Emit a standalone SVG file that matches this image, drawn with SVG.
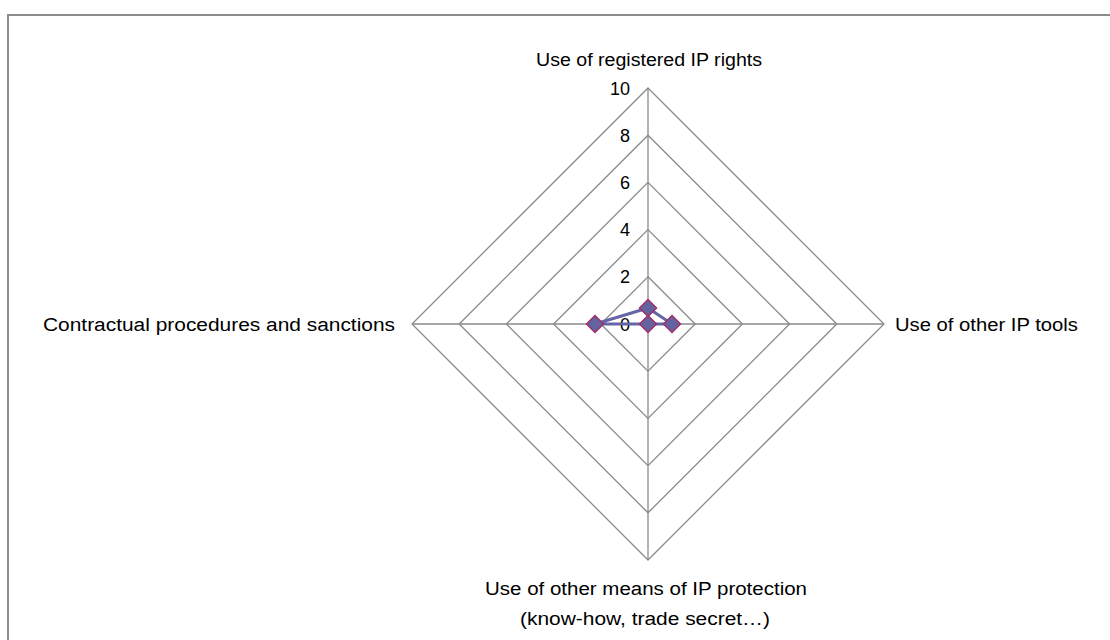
<svg xmlns="http://www.w3.org/2000/svg" width="1110" height="640" viewBox="0 0 1110 640">
<defs>
<style>
.grid{fill:none;stroke:#8a8a8a;stroke-width:1.3}
.axis{stroke:#8a8a8a;stroke-width:1.3}
.lbl{font-family:"Liberation Sans",Arial,sans-serif;font-size:18px;fill:#000}
.tick{font-family:"Liberation Sans",Arial,sans-serif;font-size:18px;fill:#000;text-anchor:end}
.series{fill:none;stroke:#6565a8;stroke-width:3;stroke-linejoin:round}
.mk{fill:#62639f;stroke:#a3306a;stroke-width:1.5}
</style>
<path id="dm" d="M0,-8.5 L8.5,0 L0,8.5 L-8.5,0 Z"/>
</defs>
<rect x="0" y="0" width="1110" height="640" fill="#fff"/>
<path d="M8,640 L8,15 L1110,15" fill="none" stroke="#8c8c8c" stroke-width="2"/>
<g id="grid">
<polygon class="grid" points="648,276.8 695.2,324 648,371.2 600.8,324"/>
<polygon class="grid" points="648,229.6 742.4,324 648,418.4 553.6,324"/>
<polygon class="grid" points="648,182.4 789.6,324 648,465.6 506.4,324"/>
<polygon class="grid" points="648,135.2 836.8,324 648,512.8 459.2,324"/>
<polygon class="grid" points="648,88 884,324 648,560 412,324"/>
<line class="axis" x1="648" y1="88" x2="648" y2="560"/>
<line class="axis" x1="412" y1="324" x2="884" y2="324"/>
</g>
<g id="ticks">
<text class="tick" x="630" y="330.5">0</text>
<text class="tick" x="630" y="283.3">2</text>
<text class="tick" x="630" y="236.1">4</text>
<text class="tick" x="630" y="188.9">6</text>
<text class="tick" x="630" y="141.7">8</text>
<text class="tick" x="630" y="94.5">10</text>
</g>
<g id="axis-top"><text class="lbl" x="536" y="66" textLength="226" lengthAdjust="spacingAndGlyphs">Use of registered IP rights</text></g>
<g id="axis-right"><text class="lbl" x="895" y="331" textLength="183" lengthAdjust="spacingAndGlyphs">Use of other IP tools</text></g>
<g id="axis-bottom">
<text class="lbl" x="485" y="595" textLength="322" lengthAdjust="spacingAndGlyphs">Use of other means of IP protection</text>
<text class="lbl" x="520" y="625" textLength="250" lengthAdjust="spacingAndGlyphs">(know-how,  trade secret…)</text>
</g>
<g id="axis-left"><text class="lbl" x="43" y="331" textLength="352" lengthAdjust="spacingAndGlyphs">Contractual procedures and sanctions</text></g>
<g id="connectors">
<polygon class="series" points="648,308 672,324 648,324 595,324"/>
</g>
<g id="markers">
<use href="#dm" class="mk" x="648" y="308"/>
<use href="#dm" class="mk" x="672" y="324"/>
<use href="#dm" class="mk" x="648" y="324"/>
<use href="#dm" class="mk" x="595" y="324"/>
</g>
</svg>
